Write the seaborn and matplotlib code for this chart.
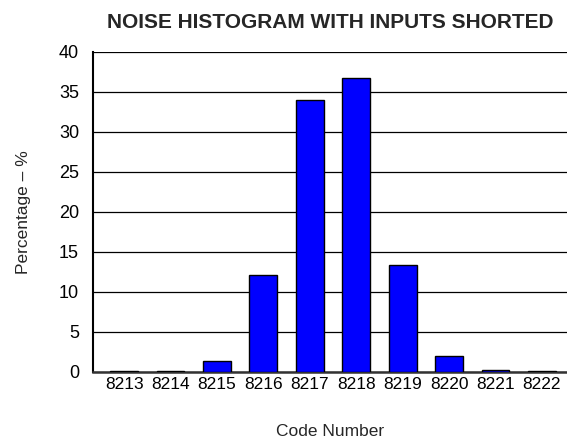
import numpy as np
import pandas as pd
import seaborn as sns
from matplotlib import pyplot as plt

# the data
codes = ['8213', '8214', '8215', '8216', '8217', '8218', '8219', '8220', '8221', '8222']
percent = [0.1, 0.1, 1.4, 12.1, 34.0, 36.7, 13.3, 2.0, 0.25, 0.1]

df = pd.DataFrame({'code': codes, 'pct': percent})

sns.set_style('white')
plt.rcParams['font.family'] = ['Liberation Sans', 'DejaVu Sans']

fig = plt.figure(figsize=(5.67, 4.40), dpi=100)
ax = fig.add_axes([0.164, 0.155, 0.836, 0.727])

sns.barplot(data=df, x='code', y='pct', color='#0000ff', edgecolor='black',
            linewidth=1, width=0.6, saturation=1, ax=ax, zorder=3)

ax.set_ylim(0, 40)
ax.set_yticks(np.arange(0, 45, 5))
ax.set_xlim(-0.67, 9.54)
ax.yaxis.grid(True, color='black', linewidth=0.9, zorder=0)
ax.set_axisbelow(True)

for s in ['right', 'top']:
    ax.spines[s].set_visible(False)
ax.spines['left'].set_color('black')
ax.spines['left'].set_linewidth(1.5)
ax.spines['bottom'].set_color('#333333')
ax.spines['bottom'].set_linewidth(1.8)

ax.tick_params(axis='both', length=0, labelsize=12.5, colors='black')
ax.tick_params(axis='y', labelsize=13, pad=10)
ax.tick_params(axis='x', pad=4)

ax.set_xlabel('Code Number', fontsize=12.5, labelpad=23)
ax.set_ylabel('Percentage – %', fontsize=12.5, labelpad=20)
ax.set_title('NOISE HISTOGRAM WITH INPUTS SHORTED', fontsize=15,
             fontweight='bold', pad=17)

plt.savefig('out.png', dpi=100)
